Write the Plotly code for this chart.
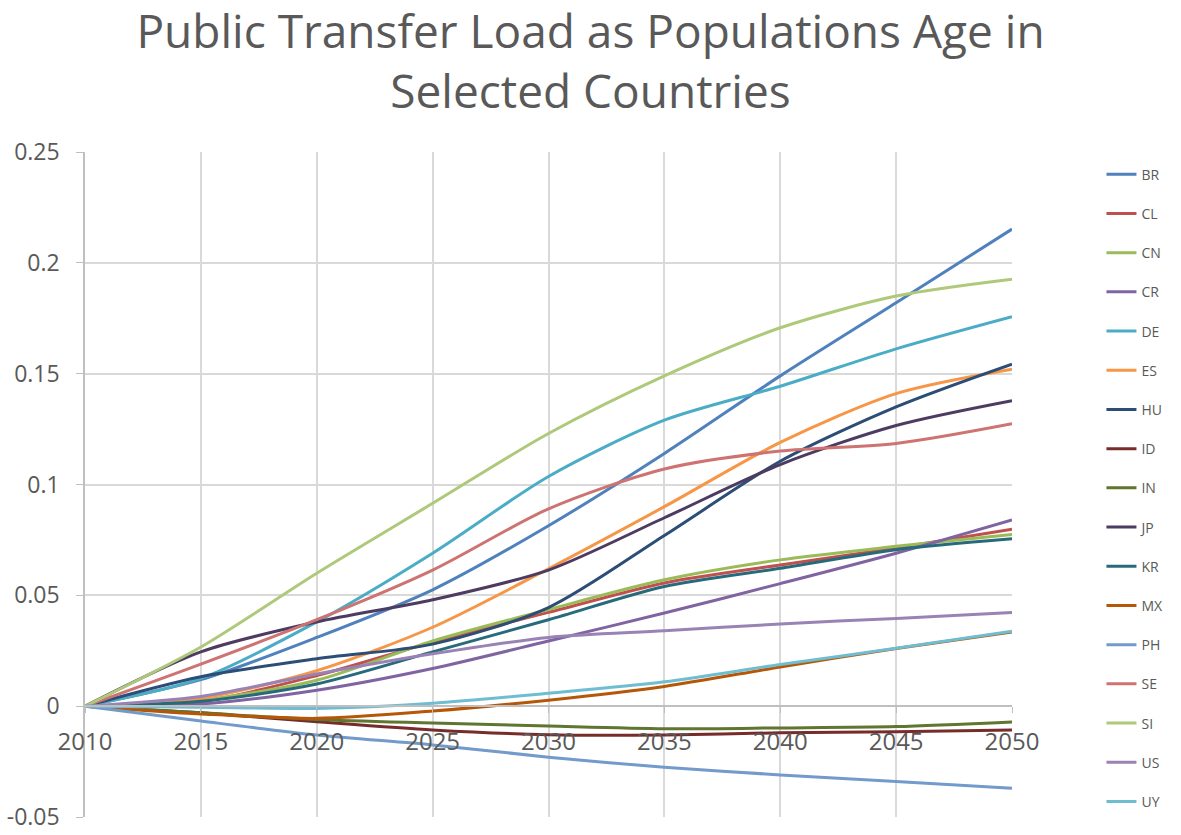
import plotly.graph_objects as go

years = [2010, 2015, 2020, 2025, 2030, 2035, 2040, 2045, 2050]

countries = ["BR", "CL", "CN", "CR", "DE", "ES", "HU", "ID", "IN",
             "JP", "KR", "MX", "PH", "SE", "SI", "US", "UY"]

BR = [0, 0.012, 0.031, 0.0525, 0.0814, 0.114, 0.149, 0.182, 0.2152]
CL = [0, 0.002, 0.0138, 0.0289, 0.0423, 0.0556, 0.0637, 0.0714, 0.0798]
CN = [0, 0.0027, 0.0117, 0.0294, 0.0436, 0.057, 0.066, 0.0721, 0.0775]
CR = [0, 0.001, 0.0072, 0.017, 0.0294, 0.042, 0.0553, 0.069, 0.084]
DE = [0, 0.0125, 0.038, 0.069, 0.1036, 0.129, 0.1443, 0.1612, 0.1757]
ES = [0, 0.0036, 0.016, 0.0356, 0.062, 0.090, 0.119, 0.141, 0.152]
HU = [0, 0.0133, 0.0214, 0.028, 0.0445, 0.077, 0.1105, 0.135, 0.1543]
ID = [0, -0.003, -0.007, -0.0107, -0.0129, -0.013, -0.012, -0.0115, -0.0107]
IN = [0, -0.003, -0.006, -0.0076, -0.009, -0.0102, -0.0098, -0.0092, -0.0071]
JP = [0, 0.0245, 0.038, 0.048, 0.0614, 0.085, 0.109, 0.1266, 0.1378]
KR = [0, 0.0022, 0.010, 0.0245, 0.039, 0.054, 0.0622, 0.0706, 0.0755]
MX = [0, -0.0035, -0.0055, -0.0022, 0.0027, 0.0089, 0.0177, 0.026, 0.0335]
PH = [0, -0.0067, -0.013, -0.0175, -0.023, -0.0276, -0.031, -0.034, -0.037]
SE = [0, 0.019, 0.039, 0.0614, 0.089, 0.107, 0.1151, 0.1185, 0.1274]
SI = [0, 0.0267, 0.060, 0.0915, 0.123, 0.149, 0.1707, 0.185, 0.1926]
US = [0, 0.0044, 0.0145, 0.0236, 0.031, 0.034, 0.0371, 0.0396, 0.0422]
UY = [0, -0.0005, -0.001, 0.0013, 0.0058, 0.011, 0.0188, 0.0261, 0.0338]

series = [BR, CL, CN, CR, DE, ES, HU, ID, IN, JP, KR, MX, PH, SE, SI, US, UY]

colors = ["#4F81BD", "#C0504D", "#9BBB59", "#8064A2", "#4BACC6", "#F79646",
          "#2C4D75", "#772C2A", "#5F7530", "#4D3B62", "#276A7C", "#B65708",
          "#729ACA", "#CD7371", "#AFC97A", "#9983B5", "#6FBDD1"]

y_ticks = [-0.05, 0, 0.05, 0.1, 0.15, 0.2, 0.25]
y_labels = ["-0.05", "0", "0.05", "0.1", "0.15", "0.2", "0.25"]

fig = go.Figure()
for name, vals, col in zip(countries, series, colors):
    fig.add_trace(go.Scatter(
        x=years, y=vals, name=name, mode="lines",
        line=dict(color=col, width=3, shape="spline", smoothing=0.8),
        legendgroup=name,
    ))

fig.update_layout(
    width=1181, height=835,
    title=dict(text="Public Transfer Load as Populations Age in<br>Selected Countries",
               x=0.5, xanchor="center", y=0.942, yanchor="top",
               font=dict(family="Open Sans", size=46, color="#595959")),
    font=dict(family="Open Sans", color="#595959"),
    margin=dict(l=85, r=154, t=152, b=18),
    paper_bgcolor="white", plot_bgcolor="white",
    legend=dict(x=1.0965, xanchor="left", y=0.99, yanchor="top",
                font=dict(size=14, color="#595959"),
                tracegroupgap=18, maxheight=830,
                bgcolor="rgba(0,0,0,0)"),
    showlegend=True,
)
fig.update_xaxes(
    range=[2010, 2050], tickvals=list(range(2010, 2051, 5)),
    showgrid=True, gridcolor="#D9D9D9", gridwidth=1.5,
    anchor="free", position=1 / 6, automargin=False,
    showline=True, linecolor="#BFBFBF", linewidth=1.5,
    ticks="outside", ticklen=6, tickcolor="#BFBFBF", ticklabelstandoff=8,
    tickfont=dict(size=24, color="#595959"), zeroline=False,
)
fig.update_yaxes(
    range=[-0.05, 0.25], tickvals=y_ticks, ticktext=y_labels,
    showgrid=True, gridcolor="#D9D9D9", gridwidth=1.5, automargin=False,
    showline=True, linecolor="#BFBFBF", linewidth=1.5,
    ticks="outside", ticklen=7, tickcolor="#BFBFBF", ticklabelstandoff=12,
    ticklabeloverflow="allow",
    tickfont=dict(size=23, color="#595959"), zeroline=False,
)

fig.write_html("out.html", config={"displayModeBar": False},
               post_script="document.body.style.margin='0';")
